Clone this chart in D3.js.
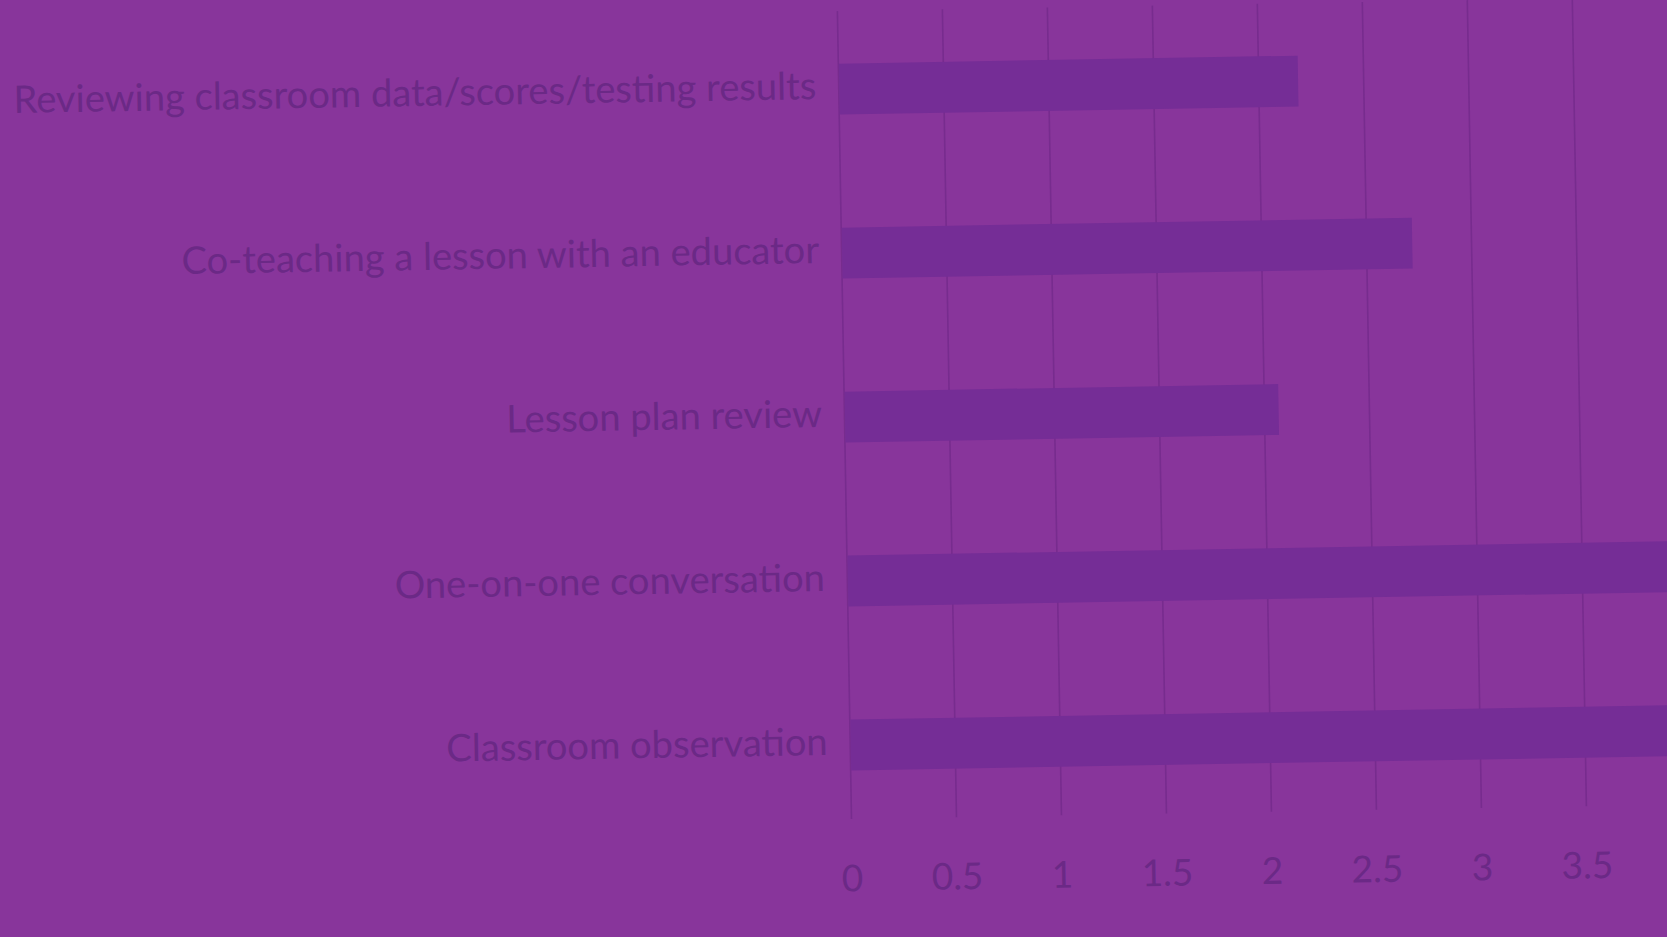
<!DOCTYPE html>
<html>
<head>
<meta charset="utf-8">
<script src="https://cdn.jsdelivr.net/npm/d3@7/dist/d3.min.js"></script>
<style>
  html, body { margin: 0; padding: 0; background: #88359b; overflow: hidden; }
  svg { display: block; }
</style>
</head>
<body>
<svg id="chart" width="1667" height="937"></svg>
<script>
// ---- data ----
const categories = [
  "Reviewing classroom data/scores/testing results",
  "Co-teaching a lesson with an educator",
  "Lesson plan review",
  "One-on-one conversation",
  "Classroom observation"
];
const values = [2.19, 2.72, 2.07, 4.3, 4.5];
const gridValues = [0, 0.5, 1, 1.5, 2, 2.5, 3, 3.5, 4, 4.5];
const tickLabels = [0, 0.5, 1, 1.5, 2, 2.5, 3, 3.5];

// ---- layout ----
const W = 1667, H = 937;
const originX = 851, plotBottom = 819, plotTop = 11;
const unitPx = 210;

const svg = d3.select("#chart");
svg.append("rect").attr("width", W).attr("height", H).attr("fill", "#88359b");

const g = svg.append("g").attr("transform", `rotate(-1, ${originX}, ${plotBottom})`);

const x = d3.scaleLinear().domain([0, 4.5]).range([originX, originX + 4.5 * unitPx]);
const y = d3.scaleBand().domain(categories).range([7, 827]).paddingInner(0.69).paddingOuter(0.345);

// gridlines
const grid = g.append("g").attr("transform", `translate(0,${plotBottom})`)
  .call(d3.axisBottom(x).tickValues(gridValues).tickSize(-(plotBottom - plotTop)).tickFormat(""));
grid.select(".domain").remove();
grid.selectAll(".tick line").attr("stroke", "#772c8e").attr("stroke-width", 1.6);

// bars
g.selectAll("rect.bar").data(categories).join("rect")
  .attr("class", "bar")
  .attr("x", x(0) + 1)
  .attr("y", d => y(d))
  .attr("width", (d, i) => x(values[i]) - x(0) - 1)
  .attr("height", y.bandwidth())
  .attr("fill", "#752d96");

// tick labels
const tl = g.append("g").attr("transform", `translate(0,${plotBottom})`)
  .call(d3.axisBottom(x).tickValues(tickLabels).tickSize(0).tickPadding(46).tickFormat(d3.format("")));
tl.select(".domain").remove();
tl.selectAll("text")
  .attr("font-family", "Lato, 'Open Sans', sans-serif")
  .attr("font-size", 37)
  .attr("fill", "#6b2986");

// category labels
const labels = g.append("g").selectAll("text").data(categories).join("text")
  .attr("x", originX - 22)
  .attr("y", d => y(d) + y.bandwidth() / 2)
  .attr("dy", "0.25em")
  .attr("text-anchor", "end")
  .attr("font-family", "Lato, 'Open Sans', sans-serif")
  .attr("font-size", 100)
  .attr("fill", "#6b2986")
  .text(d => d);
// fit the longest label to the reference width
const longest = labels.nodes()[0].getComputedTextLength();
labels.attr("font-size", 100 * 803 / longest);
</script>
</body>
</html>
